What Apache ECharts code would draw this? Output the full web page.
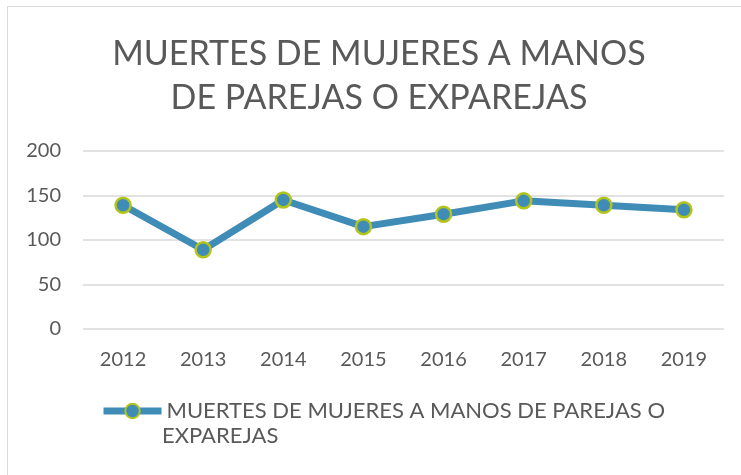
<!DOCTYPE html>
<html>
<head>
<meta charset="utf-8">
<script src="https://cdn.jsdelivr.net/npm/echarts@6/dist/echarts.min.js"></script>
<style>
  html, body { margin: 0; padding: 0; background: #fff; }
  #frame { position: absolute; left: 7px; top: 6px; width: 760px; height: 500px; border: 1px solid #d9d9d9; }
  #chart { position: absolute; left: 0; top: 0; width: 741px; height: 475px; }
</style>
</head>
<body>
<div id="frame"></div>
<div id="chart"></div>
<script>
const years = ["2012", "2013", "2014", "2015", "2016", "2017", "2018", "2019"];
const deaths = [139, 89, 145, 115, 129, 144, 139, 134];
const seriesName = "MUERTES DE MUJERES A MANOS DE PAREJAS O EXPAREJAS";

const font = "Lato, 'Open Sans', sans-serif";
const grey = "#595959";
const blue = "#3f8cb7";
const lime = "#b3c51a";

const chart = echarts.init(document.querySelector("#chart"));
chart.setOption({
  animation: false,
  title: {
    text: "MUERTES DE MUJERES A MANOS\nDE PAREJAS O EXPAREJAS",
    left: 374,
    textAlign: "center",
    top: 27,
    textStyle: { fontFamily: font, fontSize: 34, fontWeight: "normal", color: grey, lineHeight: 44 }
  },
  grid: { left: 83, right: 17, top: 151, bottom: 146 },
  legend: {
    left: 100,
    top: 400,
    padding: 0,
    itemWidth: 58,
    itemHeight: 18,
    itemGap: 0,
    formatter: () => "MUERTES DE MUJERES A MANOS DE PAREJAS O",
    lineStyle: { width: 7 },
    textStyle: { fontFamily: font, fontSize: 22, color: grey }
  },
  graphic: [{
    type: "text",
    left: 162,
    top: 425,
    style: { text: "EXPAREJAS", font: "22px " + font, fill: grey }
  }],
  xAxis: {
    type: "category",
    data: years,
    boundaryGap: true,
    axisLine: { show: false },
    axisTick: { show: false },
    axisLabel: { margin: 21, fontFamily: font, fontSize: 20, color: grey }
  },
  yAxis: {
    type: "value",
    min: 0,
    max: 200,
    interval: 50,
    axisLine: { show: false },
    axisTick: { show: false },
    axisLabel: { margin: 22, fontFamily: font, fontSize: 20, color: grey },
    splitLine: { lineStyle: { color: "#d9d9d9", width: 1.5 } }
  },
  series: [{
    name: seriesName,
    type: "line",
    data: deaths,
    symbol: "circle",
    symbolSize: 15,
    lineStyle: { color: blue, width: 7 },
    itemStyle: { color: blue, borderColor: lime, borderWidth: 2.5 }
  }]
});
</script>
</body>
</html>
